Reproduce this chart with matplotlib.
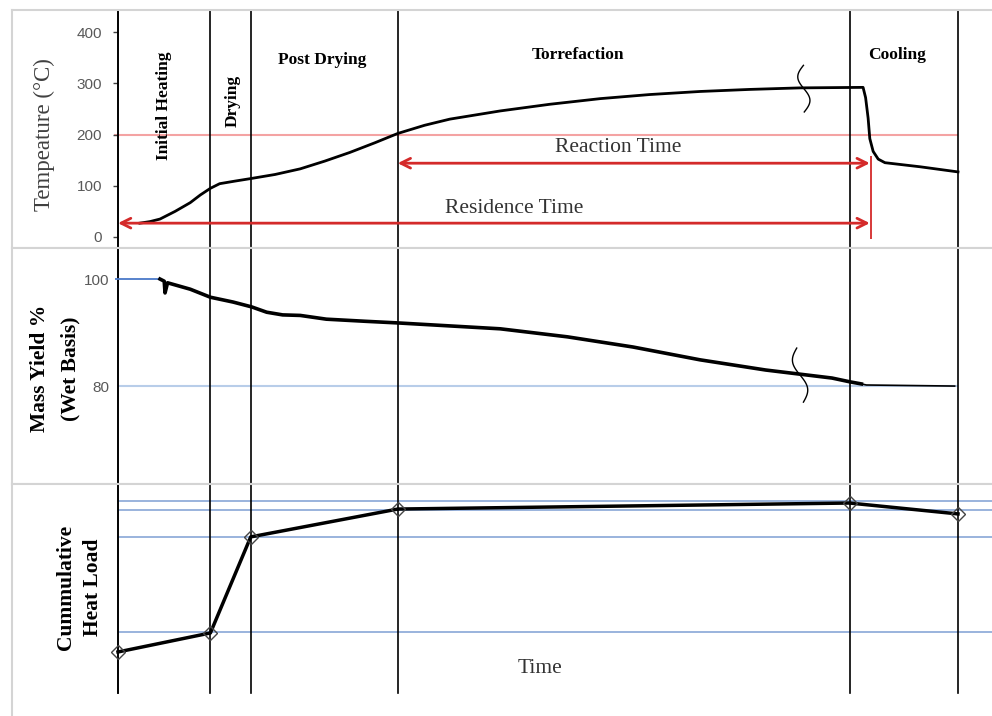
import numpy as np
import matplotlib
matplotlib.use("Agg")
import matplotlib.pyplot as plt
from matplotlib.lines import Line2D

# ---------------- data ----------------
phase_bounds = [0, 11.0, 15.8, 33.3, 87.1, 100]
phase_names = ["Initial Heating", "Drying", "Post Drying", "Torrefaction", "Cooling"]

temp_t = [2.6, 3.8, 5.0, 6.8, 8.6, 9.8, 11.0, 12.1, 13.9, 15.8, 18.7, 21.7, 24.6, 27.6,
          30.6, 33.3, 36.5, 39.5, 45.5, 51.4, 57.4, 63.3, 69.3, 75.2, 81.2, 88.7,
          89.0, 89.3, 89.5, 89.9, 90.5, 91.3, 95.5, 100.0]
temp_v = [27, 30, 35, 50, 67, 82, 95, 104, 109, 114, 122, 133, 148, 165,
          184, 202, 218, 230, 246, 259, 270, 278, 284, 288, 291, 292,
          272, 232, 192, 167, 152, 145, 137, 127]

mass_t = [5.0, 5.5, 5.6, 5.9, 8.6, 11.0, 13.7, 15.9, 17.7, 19.6, 21.7, 24.8, 29.5,
          33.3, 45.5, 53.5, 61.3, 69.3, 77.1, 85.0, 87.1, 88.5]
mass_v = [100.0, 99.6, 97.4, 99.3, 98.1, 96.6, 95.7, 94.8, 93.8, 93.3, 93.2, 92.5, 92.1,
          91.8, 90.7, 89.2, 87.3, 84.9, 83.0, 81.5, 80.8, 80.4]
cool_t = [88.5, 89.1, 99.6]
cool_v = [80.4, 80.2, 80.0]

heat_t = [0, 11.0, 15.8, 33.3, 87.1, 100]
heat_v = [27.6, 35.8, 77.2, 89.2, 91.8, 87.1]
heat_grid = [92.7, 88.8, 77.2, 36.2]

temp_ticks = [0, 100, 200, 300, 400]
mass_ticks = [80, 100]

reaction_span = (33.3, 89.5, 144)
residence_span = (0, 89.5, 27)

# ---------------- figure ----------------
W, H = 992, 716
fig = plt.figure(figsize=(W / 100, H / 100), dpi=100)
serif = ["Liberation Serif", "DejaVu Serif"]
sans = ["Liberation Sans", "DejaVu Sans"]

TL, TR = (12 - 118) / 8.4, (992 - 118) / 8.4
gray = "#d4d4d4"

def mk(top, bot):
    return fig.add_axes([12 / W, 1 - bot / H, 980 / W, (bot - top) / H])

ax1 = mk(10, 248)
ax2 = mk(248, 484)
ax3 = mk(484, 716)

for ax in (ax1, ax2, ax3):
    ax.set_xlim(TL, TR)
    ax.set_xticks([])
    ax.spines["right"].set_visible(False)
    for s in ("top", "bottom"):
        ax.spines[s].set_color(gray)
        ax.spines[s].set_linewidth(1.5)
    ax.spines["left"].set_position(("data", 0))
    ax.spines["left"].set_color("black")
    ax.spines["left"].set_linewidth(1.2)
ax3.spines["bottom"].set_visible(False)

# left border
fig.add_artist(Line2D([12 / W, 12 / W], [0, 1 - 10 / H], color=gray, lw=1.5))

# ---------- top panel ----------
ax1.set_ylim(-21.5, 443)
ax1.set_yticks(temp_ticks)
ax1.tick_params(axis="y", length=3.6, width=1, color="#404040", pad=8,
                labelcolor="#595959", labelsize=11)
for lab in ax1.get_yticklabels():
    lab.set_family(sans)
ax1.hlines(200, -0.5, 100, color="#f4a3a3", lw=1.5, zorder=1)
for b in phase_bounds:
    ax1.axvline(b, color="black", lw=1.2, zorder=2)
ax1.plot(temp_t, temp_v, color="black", lw=2, zorder=3)

red = "#d42a2a"
for (a, b, y) in (reaction_span, residence_span):
    ax1.annotate("", xy=(a, y), xytext=(b, y),
                 arrowprops=dict(arrowstyle="<->,head_length=0.7,head_width=0.35",
                                 color=red, lw=2, shrinkA=0, shrinkB=0), zorder=4)
ax1.vlines(reaction_span[1] + 0.2, -3, 158, color=red, lw=1.3, zorder=4)
ax1.text(59.5, 175, "Reaction Time", family=serif, fontsize=15.5, color="#333333",
         ha="center", va="center")
ax1.text(47.2, 56, "Residence Time", family=serif, fontsize=15.5, color="#333333",
         ha="center", va="center")

ax1.text(5.5, 257, "Initial Heating", family=serif, fontsize=12.5, fontweight="bold",
         rotation=90, ha="center", va="center")
ax1.text(13.6, 265, "Drying", family=serif, fontsize=12.5, fontweight="bold",
         rotation=90, ha="center", va="center")
ax1.text(24.3, 345, "Post Drying", family=serif, fontsize=12.5, fontweight="bold",
         ha="center", va="center")
ax1.text(54.8, 355, "Torrefaction", family=serif, fontsize=12.5, fontweight="bold",
         ha="center", va="center")
ax1.text(92.7, 355, "Cooling", family=serif, fontsize=12.5, fontweight="bold",
         ha="center", va="center")
ax1.text((44 - 118) / 8.4, 200, "Tempeature (°C)", family=serif, fontsize=16.5,
         color="#404040", rotation=90, ha="center", va="center")

# break marks
s = np.linspace(0, 1, 60)
ax1.plot(81.6 + 0.1 * s - 0.7 * np.sin(2 * np.pi * s), 335 - 91 * s, color="black", lw=1)

# ---------- middle panel ----------
ax2.set_ylim(61.7, 105.8)
ax2.set_yticks(mass_ticks)
ax2.tick_params(axis="y", length=0, pad=6, labelcolor="#595959", labelsize=11)
for lab in ax2.get_yticklabels():
    lab.set_family(sans)
ax2.hlines(80, 0, 100, color="#b8cde9", lw=1.5, zorder=1)
for b in phase_bounds:
    ax2.axvline(b, color="black", lw=1.2, zorder=2)
ax2.hlines(100, -0.4, mass_t[0], color="#4a78c8", lw=1.3, zorder=3)
ax2.plot(mass_t, mass_v, color="black", lw=2.6, zorder=3)
ax2.plot(cool_t, cool_v, color="black", lw=1.2, zorder=3)
ax2.plot(80.8 + 0.8 * s - 0.7 * np.sin(2 * np.pi * s), 87.1 - 10.1 * s, color="black", lw=1)
ax2.text((40 - 118) / 8.4, 83.3, "Mass Yield %", family=serif, fontsize=15.5,
         fontweight="bold", rotation=90, ha="center", va="center")
ax2.text((70 - 118) / 8.4, 83.3, "(Wet Basis)", family=serif, fontsize=15.5,
         fontweight="bold", rotation=90, ha="center", va="center")

# ---------- bottom panel ----------
ax3.set_ylim(0, 100)
ax3.set_yticks([])
ax3.spines["left"].set_bounds(100 * (716 - 693) / 232, 100)
for g in heat_grid:
    ax3.hlines(g, 0, TR, color="#7f9fd3", lw=1.1, zorder=1)
for b in phase_bounds:
    ax3.axvline(b, ymin=(716 - 693) / 232, color="black", lw=1.2, zorder=2)
ax3.plot(heat_t, heat_v, color="black", lw=2.5, marker="D", markersize=7,
         markerfacecolor="none", markeredgecolor="#444444", markeredgewidth=1, zorder=3)
ax3.text((66 - 118) / 8.4, 55.6, "Cummulative", family=serif, fontsize=15.5,
         fontweight="bold", rotation=90, ha="center", va="center")
ax3.text((93 - 118) / 8.4, 55.6, "Heat Load", family=serif, fontsize=15.5,
         fontweight="bold", rotation=90, ha="center", va="center")
ax3.text((540 - 118) / 8.4, 20.3, "Time", family=serif, fontsize=15.5, color="#333333",
         ha="center", va="center")

fig.savefig("out.png", dpi=100)
